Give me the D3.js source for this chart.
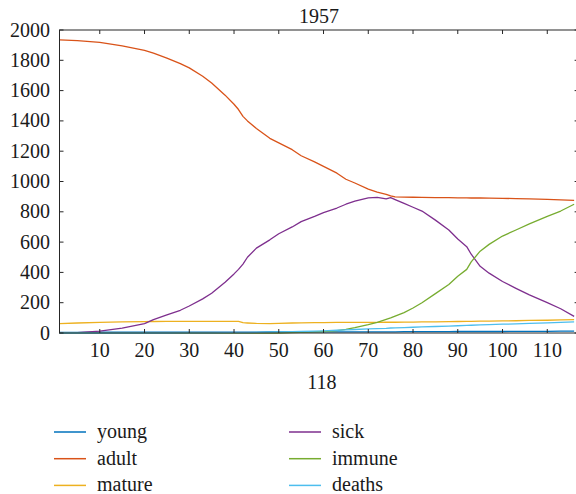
<!DOCTYPE html>
<html><head><meta charset="utf-8">
<script src="https://cdn.jsdelivr.net/npm/d3@7/dist/d3.min.js"></script>
</head><body style="margin:0"><svg id="c" width="576" height="494" style="font-family:'Liberation Serif'"></svg>
<script>
const days = [1,5,10,15,20,22,25,28,30,33,35,38,40,41,42,43,45,48,50,53,55,58,60,63,65,67,70,72,74,75,76,78,80,82,85,88,90,92,93,95,97,100,103,106,110,113,116];
const young = [4,4,5,5,5,5,5,5,6,6,6,6,6,6,6,6,6,7,7,7,7,7,7,8,8,8,8,8,8,8,8,9,9,9,9,9,10,10,10,10,10,10,11,11,11,12,12];
const adult = [1935,1930,1918,1895,1865,1848,1815,1778,1750,1695,1650,1570,1510,1475,1430,1400,1350,1285,1255,1210,1170,1130,1100,1055,1015,990,950,930,915,905,898,897,896,895,894,893,892,892,891,891,890,889,887,885,882,879,876];
const mature = [62,66,70,73,75,76,77,77,77,77,77,77,77,77,68,66,63,62,64,66,67,68,69,70,70,70,70,70,71,71,71,72,72,73,74,75,76,77,77,78,79,80,81,83,84,86,88];
const sick = [0,2,12,32,62,88,120,150,178,225,262,335,390,420,455,500,560,615,655,700,735,770,795,825,850,870,892,895,885,893,880,855,830,805,745,680,620,570,520,440,395,340,295,252,200,160,110];
const immune = [0,0,0,0,0,0,0,0,0,0,0,0,0,0,0,0,0,0,0,2,4,7,10,16,24,35,55,70,90,100,112,135,165,200,260,320,375,420,470,540,585,640,680,720,770,805,850];
const deaths = [0,0,0,0,0,0,0,1,1,1,1,2,2,2,3,3,4,6,7,9,10,12,14,18,20,23,27,29,31,33,34,36,38,40,43,46,48,50,51,53,55,58,60,63,67,70,74];
const seriesNames = ["young","adult","mature","sick","immune","deaths"];
const seriesColors = ["#0072BD","#D95319","#EDB120","#7E2F8E","#77AC30","#4DBEEE"];
const xTicks = [10,20,30,40,50,60,70,80,90,100,110];
const yTicks = [0,200,400,600,800,1000,1200,1400,1600,1800,2000];
const title = "1957";
const xLabel = "118";

const FONT = '"Liberation Serif"';
const seriesData = [young, adult, mature, sick, immune, deaths];
const svg = d3.select("#c");
const L = 59.5, R = 578.6, T = 30, B = 333;
const x = d3.scaleLinear().domain([1,117]).range([L,R]);
const y = d3.scaleLinear().domain([0,2000]).range([B,T]);
const fs = 20;

const line = d3.line().x((d,i)=>x(days[i])).y(d=>y(d));
const plot = svg.append("g");
seriesData.forEach((s,k)=>{
  plot.append("path").datum(s).attr("d",line)
    .attr("fill","none").attr("stroke",seriesColors[k]).attr("stroke-width",1.3).attr("stroke-linejoin","round");
});

const ax = svg.append("g").attr("stroke","#262626").attr("stroke-width",1).attr("fill","none");
ax.append("rect").attr("x",L).attr("y",T).attr("width",R-L).attr("height",B-T);
xTicks.forEach(t=>{
  ax.append("line").attr("x1",x(t)).attr("x2",x(t)).attr("y1",B).attr("y2",B-4);
  ax.append("line").attr("x1",x(t)).attr("x2",x(t)).attr("y1",T).attr("y2",T+4);
});
yTicks.forEach(t=>{
  ax.append("line").attr("x1",L).attr("x2",L+4).attr("y1",y(t)).attr("y2",y(t));
  ax.append("line").attr("x1",R).attr("x2",R-4).attr("y1",y(t)).attr("y2",y(t));
});
const txt = (s)=>s.style("font-family",FONT,"important").style("font-size",fs+"px").style("fill","#1a1a1a");
svg.append("g").selectAll("text").data(xTicks).join("text").call(txt)
  .attr("x",d=>x(d)).attr("y",357).attr("text-anchor","middle").text(d=>d);
svg.append("g").selectAll("text").data(yTicks).join("text").call(txt)
  .attr("x",50).attr("y",d=>y(d)+6.5).attr("text-anchor","end").text(d=>d);

svg.append("text").call(txt).attr("x",(L+R)/2).attr("y",23).attr("text-anchor","middle").text(title);
svg.append("text").call(txt).attr("x",322).attr("y",389).attr("text-anchor","middle").text(xLabel);

const lg = svg.append("g");
seriesNames.forEach((n,i)=>{
  const col = Math.floor(i/3), row = i%3;
  const lx = col===0 ? 54 : 289, ly = 432 + row*26.7;
  lg.append("line").attr("x1",lx).attr("x2",lx+32).attr("y1",ly).attr("y2",ly).attr("stroke",seriesColors[i]).attr("stroke-width",1.5);
  lg.append("text").call(txt).attr("x",lx+43).attr("y",ly+6).text(n);
});
</script></body></html>
